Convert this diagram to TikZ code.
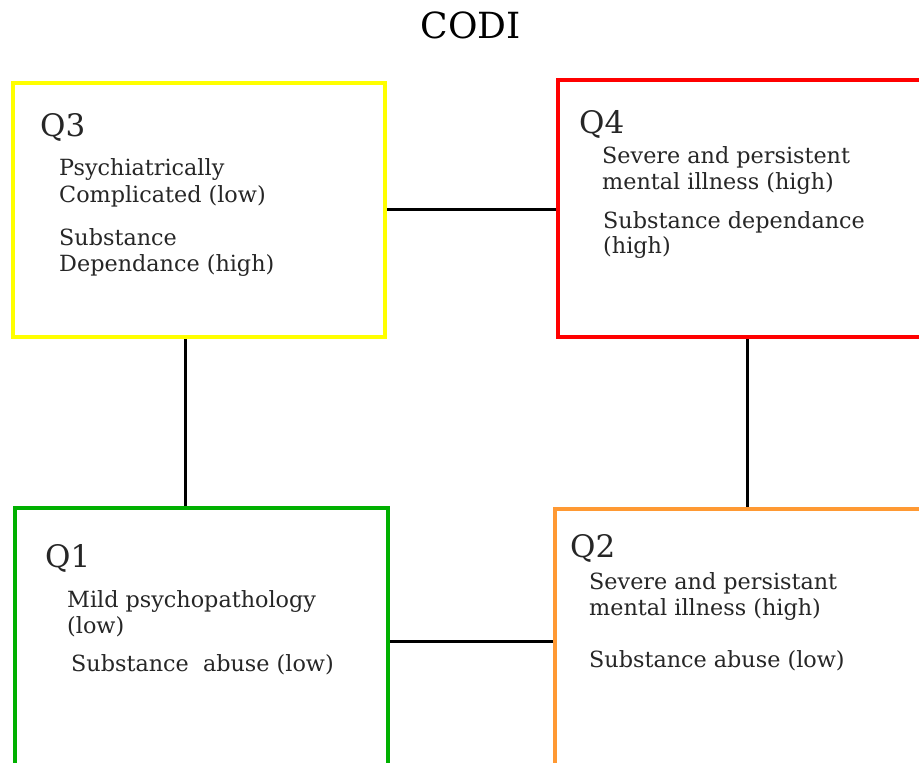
\documentclass[tikz,border=0pt]{standalone}
\usepackage{fontspec}
\setmainfont{DejaVu Serif}
\definecolor{qyellow}{RGB}{255,255,0}
\definecolor{qred}{RGB}{255,0,0}
\definecolor{qgreen}{RGB}{0,176,0}
\definecolor{qorange}{RGB}{255,153,51}
\begin{document}
\begin{tikzpicture}[x=1pt,y=-1pt,
  quad/.style={draw, line width=4pt, inner sep=0pt, fill=none},
  link/.style={draw=black, line width=3pt},
  txt/.style={anchor=base west, inner sep=0pt, font=\fontsize{22.3}{26}\selectfont, text=black!85},
  qlab/.style={anchor=base west, inner sep=0pt, font=\fontsize{31}{36}\selectfont, text=black!85},
  ttl/.style={anchor=base, inner sep=0pt, font=\fontsize{36}{40}\selectfont}]
\useasboundingbox (0,0) rectangle (919,763);
\fill[white] (0,0) rectangle (919,763);
\clip (0,0) rectangle (919,763);

\node[ttl] (title) at (471,38) {CODI};

\node[quad, draw=qyellow, minimum width=372pt, minimum height=254pt] (q3) at (199,210) {};
\node[quad, draw=qred, line width=3.5pt, minimum width=402pt, minimum height=257pt] (q4) at (759,208.5) {};
\node[quad, draw=qgreen, minimum width=373pt, minimum height=312pt] (q1) at (201.5,664) {};
\node[quad, draw=qorange, minimum width=405pt, minimum height=311pt] (q2) at (757.5,664.5) {};

\coordinate (vl) at (185,0);
\coordinate (vr) at (747,0);
\coordinate (ht) at (0,209);
\coordinate (hb) at (0,641);

\draw[link] (q3.east |- ht) -- (q4.west |- ht);
\draw[link] (q1.east |- hb) -- (q2.west |- hb);
\draw[link] (q3.south -| vl) -- (q1.north -| vl);
\draw[link] (q4.south -| vr) -- (q2.north -| vr);

% Q3
\node[qlab] (q3t) at (40,136) {Q3};
\node[txt] (q3a) at (59,175) {Psychiatrically};
\node[txt] (q3b) at (59,202) {Complicated (low)};
\node[txt] (q3c) at (59,245) {Substance};
\node[txt] (q3d) at (59,271) {Dependance (high)};
% Q4
\node[qlab] (q4t) at (579,133) {Q4};
\node[txt] (q4a) at (602,163) {Severe and persistent};
\node[txt] (q4b) at (602,189) {mental illness (high)};
\node[txt] (q4c) at (603,228) {Substance dependance};
\node[txt] (q4d) at (603,253) {(high)};
% Q1
\node[qlab] (q1t) at (45,567) {Q1};
\node[txt] (q1a) at (67,607) {Mild psychopathology};
\node[txt] (q1b) at (67,633) {(low)};
\node[txt] (q1c) at (71,671) {Substance\ \ abuse (low)};
% Q2
\node[qlab] (q2t) at (570,557) {Q2};
\node[txt] (q2a) at (589,589) {Severe and persistant};
\node[txt] (q2b) at (589,615) {mental illness (high)};
\node[txt] (q2c) at (589,667) {Substance abuse (low)};
\end{tikzpicture}
\end{document}
